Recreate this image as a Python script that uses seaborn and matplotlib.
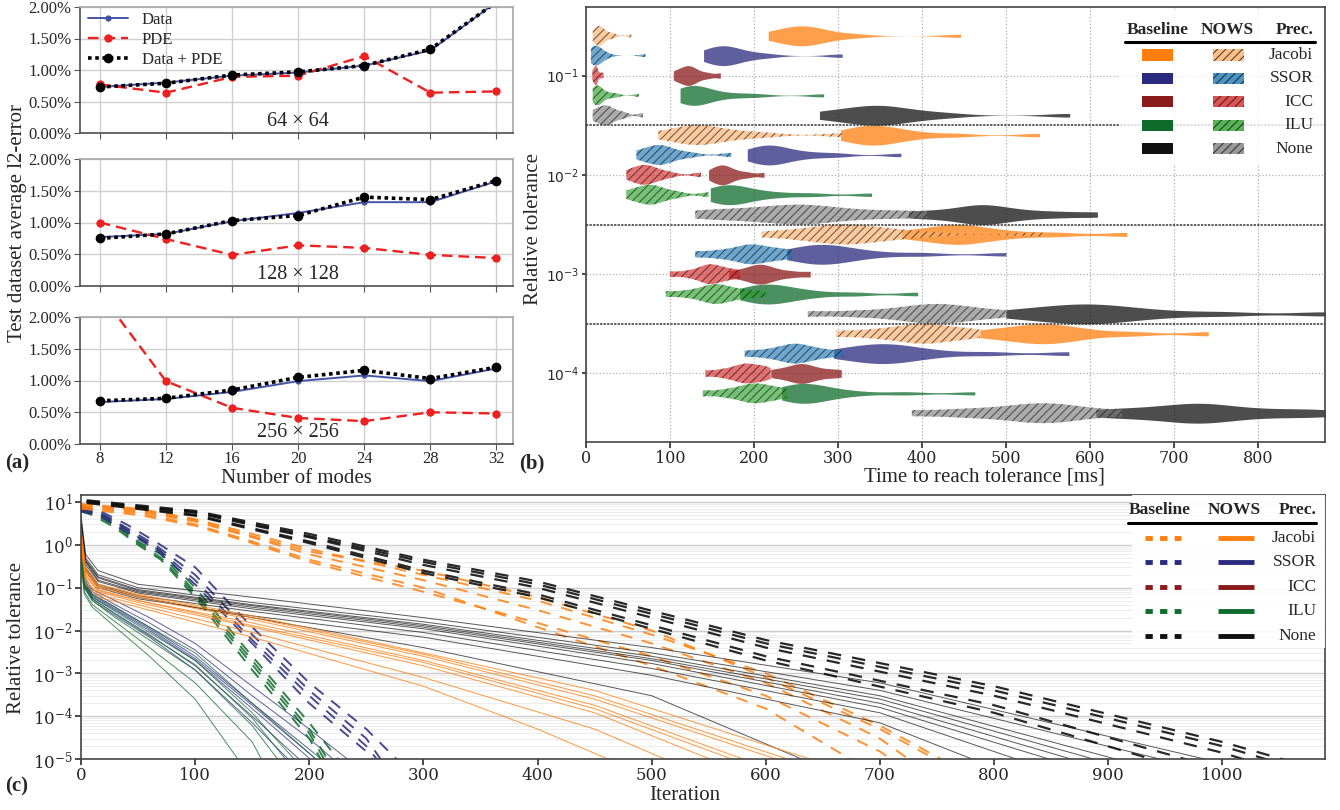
import numpy as np
import pandas as pd
import matplotlib
matplotlib.use("Agg")
import matplotlib.pyplot as plt
import seaborn as sns
from matplotlib.ticker import PercentFormatter, LogLocator, NullFormatter
from matplotlib.patches import Rectangle
from matplotlib.lines import Line2D

# ======================= DATA =======================
# ---- panel (a): test error vs number of modes (values in %) ----
modes = [8, 12, 16, 20, 24, 28, 32]
res_labels = ["64 × 64", "128 × 128", "256 × 256"]
data_64 = [0.73, 0.80, 0.91, 0.96, 1.07, 1.31, 2.08]
pde_64 = [0.77, 0.64, 0.89, 0.91, 1.22, 0.64, 0.66]
both_64 = [0.73, 0.79, 0.92, 0.97, 1.07, 1.33, 2.08]
data_128 = [0.77, 0.82, 1.02, 1.15, 1.32, 1.32, 1.65]
pde_128 = [1.00, 0.74, 0.49, 0.64, 0.60, 0.49, 0.44]
both_128 = [0.75, 0.82, 1.03, 1.11, 1.40, 1.36, 1.66]
data_256 = [0.66, 0.71, 0.82, 0.99, 1.08, 0.99, 1.19]
pde_256 = [2.38, 0.99, 0.57, 0.41, 0.36, 0.50, 0.48]
both_256 = [0.68, 0.72, 0.85, 1.05, 1.16, 1.03, 1.21]

# ---- panel (b): time to reach tolerance [ms] ----
tol_levels = ["1e-1", "1e-2", "1e-3", "1e-4"]
tol_ticklabels = [r"$10^{-1}$", r"$10^{-2}$", r"$10^{-3}$", r"$10^{-4}$"]
precs = ["Jacobi", "SSOR", "ICC", "ILU", "None"]
# order inside each list: Jacobi, SSOR, ICC, ILU, None
nows_t1 = [
    [8, 11, 13, 15, 16, 17, 19, 22, 27, 33, 54],
    [6, 8, 10, 11, 12, 13, 15, 19, 26, 71],
    [7.5, 9, 10, 11, 12, 12.5, 13, 15, 18, 21],
    [8, 10, 12, 13, 14, 15, 17, 21, 28, 36, 63],
    [8, 12, 16, 20, 23, 25, 28, 32, 38, 46, 68],
]
base_t1 = [
    [217, 232, 243, 251, 257, 261, 266, 274, 290, 320, 446],
    [140, 150, 157, 162, 166, 170, 178, 192, 215, 305],
    [104, 110, 115, 119, 122, 125, 129, 135, 145, 160],
    [112, 118, 123, 127, 130, 134, 140, 152, 175, 203, 283],
    [278, 300, 320, 335, 343, 350, 360, 375, 395, 430, 576],
]
nows_t2 = [
    [86, 105, 118, 128, 134, 140, 150, 165, 185, 215, 305],
    [60, 70, 78, 84, 88, 92, 98, 108, 125, 173],
    [48, 56, 62, 67, 71, 75, 80, 88, 100, 137],
    [48, 58, 66, 72, 77, 81, 87, 96, 110, 146],
    [130, 165, 195, 220, 240, 255, 270, 290, 320, 360, 406],
]
base_t2 = [
    [303, 318, 330, 338, 343, 350, 360, 375, 395, 440, 540],
    [192, 202, 210, 216, 221, 226, 234, 248, 270, 300, 375],
    [146, 152, 157, 161, 164, 168, 173, 181, 193, 212],
    [148, 156, 163, 169, 174, 180, 190, 205, 230, 270, 340],
    [384, 415, 440, 458, 468, 476, 488, 505, 530, 565, 609],
]
nows_t3 = [
    [209, 250, 275, 293, 303, 312, 325, 342, 365, 400, 544],
    [130, 155, 172, 185, 193, 199, 207, 218, 230, 245],
    [100, 120, 133, 141, 146, 150, 156, 163, 172, 183],
    [95, 120, 137, 147, 153, 158, 166, 177, 192, 214],
    [264, 320, 360, 385, 403, 415, 428, 445, 465, 500],
]
base_t3 = [
    [376, 400, 420, 434, 442, 450, 462, 480, 510, 560, 644],
    [239, 255, 267, 277, 284, 291, 301, 318, 345, 400, 500],
    [170, 185, 195, 202, 207, 212, 219, 229, 245, 267],
    [183, 195, 205, 213, 220, 227, 237, 252, 275, 320, 395],
    [500, 535, 560, 580, 595, 608, 625, 650, 690, 760, 881],
]
nows_t4 = [
    [298, 335, 360, 378, 392, 402, 414, 428, 445, 469],
    [189, 212, 228, 239, 246, 252, 260, 270, 285, 307],
    [142, 160, 172, 181, 187, 192, 198, 205, 212, 220],
    [139, 163, 178, 189, 196, 202, 209, 217, 227, 239],
    [388, 440, 475, 505, 525, 540, 555, 572, 595, 638],
]
base_t4 = [
    [469, 495, 515, 530, 541, 550, 562, 578, 600, 650, 741],
    [295, 315, 332, 345, 355, 363, 375, 392, 420, 480, 575],
    [220, 233, 243, 250, 256, 261, 268, 277, 290, 304],
    [233, 243, 251, 257, 262, 268, 277, 292, 320, 380, 463],
    [607, 645, 675, 700, 718, 732, 748, 768, 800, 840, 881],
]

# ---- panel (c): convergence histories (iteration, relative tolerance) ----
nows_jacobi = [
    [(0, 1.5), (4, 0.2), (15, 0.08), (50, 0.045), (150, 0.012), (300, 0.0015), (450, 1.2e-4), (560, 8e-6)],
    [(0, 2.0), (4, 0.25), (15, 0.1), (50, 0.06), (150, 0.018), (300, 0.0025), (450, 2.5e-4), (620, 8e-6)],
    [(0, 1.2), (4, 0.15), (15, 0.07), (50, 0.04), (150, 0.009), (300, 8e-4), (450, 5e-5), (520, 8e-6)],
    [(0, 2.5), (4, 0.3), (15, 0.12), (50, 0.07), (150, 0.022), (300, 0.003), (450, 4e-4), (650, 8e-6)],
    [(0, 1.8), (4, 0.22), (15, 0.09), (50, 0.05), (150, 0.015), (300, 0.002), (450, 1.8e-4), (590, 8e-6)],
    [(0, 1.0), (4, 0.12), (15, 0.06), (50, 0.035), (150, 0.007), (300, 5e-4), (400, 5e-5), (470, 8e-6)],
    [(0, 1.6), (4, 0.18), (15, 0.085), (50, 0.05), (150, 0.013), (300, 0.0018), (450, 1.5e-4), (580, 8e-6)],
    [(0, 2.2), (4, 0.27), (15, 0.11), (50, 0.065), (150, 0.02), (300, 0.0028), (450, 3e-4), (630, 8e-6)],
]
nows_none = [
    [(0, 3.0), (4, 0.4), (15, 0.15), (50, 0.08), (150, 0.035), (300, 0.012), (500, 0.002), (700, 2e-4), (880, 8e-6)],
    [(0, 2.5), (4, 0.3), (15, 0.12), (50, 0.065), (150, 0.028), (300, 0.009), (500, 0.0013), (700, 1.2e-4), (830, 8e-6)],
    [(0, 4.0), (4, 0.5), (15, 0.2), (50, 0.1), (150, 0.045), (300, 0.016), (500, 0.003), (700, 4e-4), (960, 8e-6)],
    [(0, 2.0), (4, 0.25), (15, 0.1), (50, 0.055), (150, 0.022), (300, 0.007), (500, 9e-4), (700, 7e-5), (790, 8e-6)],
    [(0, 3.5), (4, 0.45), (15, 0.18), (50, 0.09), (150, 0.04), (300, 0.014), (500, 0.0025), (700, 3e-4), (920, 8e-6)],
    [(0, 2.2), (4, 0.28), (15, 0.11), (50, 0.06), (150, 0.02), (300, 0.004), (500, 3e-4), (640, 8e-6)],
    [(0, 5.0), (4, 0.6), (15, 0.25), (50, 0.12), (150, 0.06), (300, 0.02), (500, 0.004), (700, 6e-4), (1000, 8e-6)],
    [(0, 2.8), (4, 0.35), (15, 0.14), (50, 0.075), (150, 0.032), (300, 0.011), (500, 0.0017), (700, 1.6e-4), (860, 8e-6)],
    [(0, 3.2), (4, 0.42), (15, 0.17), (50, 0.085), (150, 0.038), (300, 0.013), (500, 0.0022), (700, 2.5e-4), (900, 8e-6)],
]
nows_ssor = [
    [(0, 0.6), (3, 0.12), (10, 0.06), (30, 0.03), (60, 0.01), (100, 0.002), (150, 1.5e-4), (205, 8e-6)],
    [(0, 0.8), (3, 0.15), (10, 0.08), (30, 0.04), (60, 0.015), (100, 0.0035), (150, 3e-4), (200, 3e-5), (225, 8e-6)],
    [(0, 0.5), (3, 0.1), (10, 0.05), (30, 0.022), (60, 0.007), (100, 0.0012), (150, 7e-5), (185, 8e-6)],
    [(0, 1.0), (3, 0.18), (10, 0.09), (30, 0.05), (60, 0.02), (100, 0.005), (150, 5e-4), (200, 5e-5), (238, 8e-6)],
    [(0, 0.7), (3, 0.13), (10, 0.07), (30, 0.035), (60, 0.012), (100, 0.0025), (150, 2e-4), (215, 8e-6)],
    [(0, 0.55), (3, 0.11), (10, 0.055), (30, 0.025), (60, 0.008), (100, 0.0015), (150, 1e-4), (195, 8e-6)],
    [(0, 0.65), (3, 0.125), (10, 0.065), (30, 0.032), (60, 0.011), (100, 0.0022), (150, 1.8e-4), (210, 8e-6)],
]
nows_ilu = [
    [(0, 0.5), (3, 0.1), (10, 0.05), (30, 0.02), (60, 0.006), (100, 0.0012), (150, 6e-5), (175, 8e-6)],
    [(0, 0.7), (3, 0.12), (10, 0.06), (30, 0.028), (60, 0.009), (100, 0.002), (150, 1.2e-4), (190, 8e-6)],
    [(0, 0.4), (3, 0.08), (10, 0.04), (30, 0.016), (60, 0.004), (100, 6e-4), (150, 2.5e-5), (160, 8e-6)],
    [(0, 0.9), (3, 0.15), (10, 0.07), (30, 0.035), (60, 0.012), (100, 0.003), (150, 2e-4), (210, 8e-6)],
    [(0, 0.35), (3, 0.07), (10, 0.035), (30, 0.012), (60, 0.0025), (100, 2.5e-4), (140, 8e-6)],
    [(0, 0.6), (3, 0.11), (10, 0.055), (30, 0.024), (60, 0.0075), (100, 0.0016), (150, 9e-5), (182, 8e-6)],
]
base_jacobi = [
    [(0, 8.0), (50, 6.0), (100, 3.5), (150, 1.5), (200, 0.6), (300, 0.15), (400, 0.03), (500, 0.005), (600, 6e-4), (700, 3e-5), (730, 8e-6)],
    [(0, 7.0), (50, 5.0), (100, 2.8), (150, 1.1), (200, 0.4), (300, 0.08), (400, 0.015), (500, 0.0025), (600, 3e-4), (700, 1.5e-5), (715, 8e-6)],
    [(0, 9.0), (50, 7.0), (100, 4.0), (150, 1.8), (200, 0.8), (300, 0.2), (400, 0.05), (500, 0.008), (600, 1e-3), (700, 6e-5), (760, 8e-6)],
    [(0, 7.5), (50, 5.5), (100, 3.0), (150, 1.2), (200, 0.45), (300, 0.1), (400, 0.012), (500, 0.0015), (600, 1.5e-4), (680, 8e-6)],
    [(0, 8.5), (50, 6.5), (100, 3.8), (150, 1.6), (200, 0.7), (300, 0.25), (400, 0.06), (500, 0.01), (600, 8e-4), (700, 5e-5), (755, 8e-6)],
]
base_none = [
    [(5, 10.5), (100, 5.6), (200, 1.5), (300, 0.34), (400, 0.1), (600, 0.004), (800, 3e-4), (1000, 1.4e-5), (1030, 8e-6)],
    [(5, 10.0), (100, 5.0), (200, 1.2), (300, 0.25), (400, 0.07), (600, 0.0025), (800, 1.8e-4), (980, 8e-6)],
    [(5, 11.0), (100, 6.2), (200, 1.8), (300, 0.45), (400, 0.14), (600, 0.006), (800, 5e-4), (1000, 2.5e-5), (1065, 8e-6)],
    [(5, 9.5), (100, 4.8), (200, 1.1), (300, 0.22), (400, 0.06), (600, 0.002), (800, 1.2e-4), (950, 8e-6)],
    [(5, 10.2), (100, 5.9), (200, 1.6), (300, 0.4), (400, 0.12), (600, 0.005), (800, 4e-4), (1000, 2e-5), (1050, 8e-6)],
]
base_ssor = [
    [(0, 7.0), (15, 6.0), (40, 2.5), (65, 1.0), (100, 0.2), (150, 0.008), (200, 4e-4), (250, 3e-5), (265, 8e-6)],
    [(0, 6.0), (15, 5.0), (40, 2.0), (65, 0.8), (100, 0.12), (150, 0.005), (200, 2e-4), (250, 1.5e-5), (258, 8e-6)],
    [(0, 8.0), (15, 6.5), (40, 3.0), (65, 1.2), (100, 0.3), (150, 0.012), (200, 6e-4), (250, 5e-5), (280, 8e-6)],
    [(0, 6.5), (15, 5.5), (40, 2.2), (65, 0.9), (100, 0.15), (150, 0.006), (200, 3e-4), (250, 2e-5), (262, 8e-6)],
]
base_ilu = [
    [(0, 7.0), (10, 6.0), (30, 3.0), (50, 1.2), (70, 0.6), (100, 0.08), (150, 0.002), (200, 5e-5), (218, 8e-6)],
    [(0, 6.0), (10, 5.0), (30, 2.5), (50, 1.0), (70, 0.45), (100, 0.06), (150, 0.0012), (200, 3e-5), (212, 8e-6)],
    [(0, 8.0), (10, 6.5), (30, 3.5), (50, 1.5), (70, 0.7), (100, 0.1), (150, 0.0025), (200, 7e-5), (228, 8e-6)],
    [(0, 6.5), (10, 5.5), (30, 2.8), (50, 1.1), (70, 0.5), (100, 0.07), (150, 0.0016), (200, 4e-5), (215, 8e-6)],
]

# ======================= STYLE =======================
sns.set_theme(style="white")
plt.rcParams["font.family"] = ["Liberation Serif", "DejaVu Serif"]
plt.rcParams["mathtext.fontset"] = "dejavuserif"
plt.rcParams["hatch.linewidth"] = 0.7
plt.rcParams["hatch.color"] = "#111111"

base_colors = ["#FF7F0E", "#2B2A7E", "#8B1A1A", "#0E6B2C", "#111111"]
nows_colors = ["#FDAE6B", "#1F77B4", "#D62728", "#2CA02C", "#7F7F7F"]

W, H = 1340, 810
fig = plt.figure(figsize=(13.4, 8.1), dpi=100)


def rect(x0, y0, x1, y1):
    return [x0 / W, 1 - y1 / H, (x1 - x0) / W, (y1 - y0) / H]


# ======================= PANEL (a) =======================
a_axes = [fig.add_axes(rect(80, 7, 513, 133)),
          fig.add_axes(rect(80, 159, 513, 286)),
          fig.add_axes(rect(80, 317, 513, 444))]
a_sets = [(data_64, pde_64, both_64), (data_128, pde_128, both_128), (data_256, pde_256, both_256)]

for i, ax in enumerate(a_axes):
    d, p, b = a_sets[i]
    sns.lineplot(x=modes, y=d, ax=ax, color="#4553A6", lw=1.4, marker="o", markersize=4.5,
                 markeredgewidth=0, label="Data", legend=False)
    sns.lineplot(x=modes, y=p, ax=ax, color="#EE2020", lw=1.7, linestyle=(0, (4.5, 2.5)),
                 marker="o", markersize=6, markeredgewidth=0, label="PDE", legend=False)
    sns.lineplot(x=modes, y=b, ax=ax, color="black", lw=2.6, linestyle=(0, (1, 1)),
                 marker="o", markersize=7, markeredgewidth=0, label="Data + PDE", legend=False)
    ax.set_xlim(6.8, 33.0)
    ax.set_ylim(0, 2.0)
    ax.set_xticks(modes)
    ax.set_yticks([0, 0.5, 1.0, 1.5, 2.0])
    ax.yaxis.set_major_formatter(PercentFormatter(xmax=100, decimals=2))
    ax.grid(True, color="#d0d0d0", lw=1)
    ax.set_axisbelow(True)
    ax.tick_params(axis="both", which="major", labelsize=12, length=4, width=0.8,
                   color="#555555", bottom=True, left=True, pad=2)
    ax.tick_params(axis="x", pad=1)
    for s in ["top", "right"]:
        ax.spines[s].set_color("#aaaaaa")
    for s in ["left", "bottom"]:
        ax.spines[s].set_color("#555555")
    ax.text(20, 0.03, res_labels[i], ha="center", va="bottom", fontsize=14.5)
    ax.set_xlabel("")
    ax.set_ylabel("")
    if i < 2:
        ax.tick_params(labelbottom=False)

a_axes[0].legend(loc="upper left", frameon=False, fontsize=12, handlelength=2.4,
                 labelspacing=0.25, borderaxespad=0.1, bbox_to_anchor=(0.0, 1.03))
a_axes[1].set_ylabel("Test dataset average l2-error", fontsize=15)
a_axes[1].yaxis.set_label_coords(-0.122, 0.5)
a_axes[2].set_xlabel("Number of modes", fontsize=15)
a_axes[2].xaxis.set_label_coords(0.5, -0.2)

# ======================= PANEL (b) =======================
axb = fig.add_axes(rect(586, 7, 1325, 442))


def violin_long(groups):
    rows = []
    for tol, lists in zip(tol_levels, groups):
        for prec, vals in zip(precs, lists):
            for v in vals:
                rows.append({"tol": tol, "prec": prec, "time": v})
    return pd.DataFrame(rows)


df_base = violin_long([base_t1, base_t2, base_t3, base_t4])
df_nows = violin_long([nows_t1, nows_t2, nows_t3, nows_t4])

common = dict(x="time", y="tol", hue="prec", order=tol_levels, hue_order=precs, orient="h",
              width=1.0, dodge=True, cut=0, inner=None, density_norm="width", bw_adjust=0.55,
              linewidth=0, saturation=1, legend=False, ax=axb)
sns.violinplot(data=df_base, palette=base_colors, alpha=0.75, **common)
sns.violinplot(data=df_nows, palette=nows_colors, alpha=0.65, hatch="////",
               linecolor="#111111", **common)

axb.set_xlim(0, 880)
axb.set_ylim(3.69, -0.69)
axb.set_xticks(range(0, 801, 100))
axb.set_yticks(range(len(tol_levels)))
axb.set_yticklabels(tol_ticklabels, math_fontfamily="dejavusans", fontsize=10)
axb.tick_params(axis="x", labelsize=11.5, labelfontfamily="DejaVu Serif", length=4,
                bottom=True, color="#333333", pad=1.5)
axb.tick_params(axis="y", length=3, left=True, color="#333333", pad=2)
axb.grid(True, ls=":", color="#b0b0b0", lw=0.9)
axb.set_axisbelow(True)
for yb in [0.5, 1.5, 2.5]:
    axb.axhline(yb, color="#333333", ls=(0, (1.5, 0.8)), lw=1.1, zorder=1)
for s in axb.spines.values():
    s.set_color("#444444")
    s.set_linewidth(1.2)
axb.set_xlabel("Time to reach tolerance [ms]", fontsize=15)
axb.xaxis.set_label_coords(0.539, -0.058)
axb.set_ylabel("Relative tolerance", fontsize=15)
axb.yaxis.set_label_coords(-0.058, 0.49)

# legend table (b)
tb = axb.transAxes
axb.add_artist(Rectangle((0.722, 0.64), 0.275, 0.355, transform=tb, facecolor="white",
                         alpha=0.8, edgecolor="none", zorder=9))
axb.text(0.773, 0.947, "Baseline", transform=tb, ha="center", va="center", fontsize=12.5,
         fontweight="bold", zorder=11)
axb.text(0.868, 0.947, "NOWS", transform=tb, ha="center", va="center", fontsize=12.5,
         fontweight="bold", zorder=11)
axb.text(0.984, 0.947, "Prec.", transform=tb, ha="right", va="center", fontsize=12.5,
         fontweight="bold", zorder=11)
axb.add_artist(Line2D([0.729, 0.986], [0.920, 0.920], transform=tb, color="black", lw=2.2,
                      zorder=11))
for k, prec in enumerate(precs):
    yy = 0.890 - k * 0.054
    axb.add_artist(Rectangle((0.752, yy - 0.013), 0.042, 0.026, transform=tb,
                             facecolor=base_colors[k], edgecolor="none", zorder=11))
    axb.add_artist(Rectangle((0.849, yy - 0.013), 0.042, 0.026, transform=tb,
                             facecolor=nows_colors[k], alpha=0.8, edgecolor="#111111",
                             lw=0, hatch="////", zorder=11))
    axb.text(0.984, yy, prec, transform=tb, ha="right", va="center", fontsize=12.5, zorder=11)

# ======================= PANEL (c) =======================
axc = fig.add_axes(rect(81, 495, 1325, 759))
axc.set_yscale("log")


def curves_long(curves, name):
    rows = []
    for k, curve in enumerate(curves):
        for it, tol in curve:
            rows.append({"iter": it, "tol": tol, "run": f"{name}-{k}"})
    return pd.DataFrame(rows)


dash_pat = (0, (6, 5))
layers = [
    (nows_ssor, "nows-ssor", base_colors[1], 0.7, "-", 0.75),
    (nows_ilu, "nows-ilu", base_colors[3], 0.7, "-", 0.75),
    (base_ilu, "base-ilu", base_colors[3], 1.4, dash_pat, 0.85),
    (base_ssor, "base-ssor", base_colors[1], 1.4, dash_pat, 0.85),
    (base_jacobi, "base-jacobi", base_colors[0], 1.4, dash_pat, 0.85),
    (base_none, "base-none", base_colors[4], 1.6, dash_pat, 0.9),
    (nows_none, "nows-none", base_colors[4], 0.7, "-", 0.7),
    (nows_jacobi, "nows-jacobi", base_colors[0], 0.7, "-", 0.8),
]
for curves, name, col, lw, ls, al in layers:
    sns.lineplot(data=curves_long(curves, name), x="iter", y="tol", units="run",
                 estimator=None, color=col, lw=lw, linestyle=ls, alpha=al, legend=False,
                 sort=True, ax=axc)

axc.set_xlim(0, 1090)
axc.set_ylim(1e-5, 14.6)
axc.set_xticks(range(0, 1001, 100))
axc.yaxis.set_major_locator(LogLocator(base=10, numticks=12))
axc.yaxis.set_minor_locator(LogLocator(base=10, subs=np.arange(2, 10), numticks=12))
axc.yaxis.set_minor_formatter(NullFormatter())
axc.grid(True, which="major", axis="y", color="#cccccc", lw=1.0)
axc.grid(True, which="minor", axis="y", color="#ececec", lw=0.7)
axc.grid(False, axis="x")
axc.set_axisbelow(True)
axc.tick_params(axis="both", which="major", labelsize=12, labelfontfamily="DejaVu Serif",
                length=4, bottom=True, left=True, color="#333333", pad=2)
axc.tick_params(axis="y", which="minor", length=0)
for s in axc.spines.values():
    s.set_color("#444444")
    s.set_linewidth(1.2)
axc.set_xlabel("Iteration", fontsize=15)
axc.xaxis.set_label_coords(0.4855, -0.103)
axc.set_ylabel("Relative tolerance", fontsize=15)
axc.yaxis.set_label_coords(-0.044, 0.458)

# legend table (c)
tc = axc.transAxes
axc.add_artist(Rectangle((0.845, 0.42), 0.155, 0.58, transform=tc, facecolor="white",
                         alpha=0.92, edgecolor="none", zorder=9))
axc.text(0.867, 0.943, "Baseline", transform=tc, ha="center", va="center", fontsize=12.5,
         fontweight="bold", zorder=11)
axc.text(0.927, 0.943, "NOWS", transform=tc, ha="center", va="center", fontsize=12.5,
         fontweight="bold", zorder=11)
axc.text(0.993, 0.943, "Prec.", transform=tc, ha="right", va="center", fontsize=12.5,
         fontweight="bold", zorder=11)
axc.add_artist(Line2D([0.842, 0.993], [0.894, 0.894], transform=tc, color="black", lw=2.2,
                      zorder=11))
for k, prec in enumerate(precs):
    yy = 0.837 - k * 0.0925
    axc.add_artist(Line2D([0.855, 0.884], [yy, yy], transform=tc, color=base_colors[k], lw=3.5,
                          linestyle=(0, (1.5, 1.5)), solid_capstyle="butt",
                          dash_capstyle="butt", zorder=11))
    axc.add_artist(Line2D([0.914, 0.943], [yy, yy], transform=tc, color=base_colors[k], lw=3.5,
                          solid_capstyle="butt", zorder=11))
    axc.text(0.993, yy, prec, transform=tc, ha="right", va="center", fontsize=12.5, zorder=11)

# panel labels
fig.text(5 / W, 1 - 463 / H, "(a)", fontsize=15, fontweight="bold", va="center", ha="left")
fig.text(519 / W, 1 - 463 / H, "(b)", fontsize=15, fontweight="bold", va="center", ha="left")
fig.text(5 / W, 1 - 786 / H, "(c)", fontsize=15, fontweight="bold", va="center", ha="left")

fig.savefig("out.png", dpi=100)
